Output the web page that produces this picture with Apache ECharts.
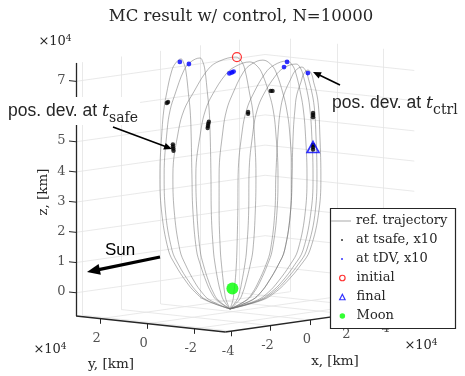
<!DOCTYPE html>
<html>
<head>
<meta charset="utf-8">
<script src="https://cdn.jsdelivr.net/npm/echarts@6/dist/echarts.min.js"></script>
<style>
html,body{margin:0;padding:0;background:#fff}
#chart{width:465px;height:376px}
</style>
</head>
<body>
<div id="chart"></div>
<script>
// axis limits and ticks, x/y/z in 1e4 km
var xLim = [-4.3, 5.3];
var yLim = [-3.3, 3.05];
var zLim = [-0.77, 7.61];
var xTicks = [-4, -2, 0, 2, 4];
var yTicks = [-2, 0, 2];
var zTicks = [0, 1, 2, 3, 4, 5, 6, 7];

var refLoops = [
  [[-0.08,-0.68],[-0.91,-0.38],[-1.24,-0.12],[-1.52,0.21],[-1.89,0.78],[-2.12,1.27],[-2.35,2.60],[-2.40,3.76],[-2.33,5.25],[-2.27,5.91],[-2.19,6.40],[-2.01,7.20],[-1.88,7.46],[-1.70,7.60],[-1.61,7.46],[-1.54,7.20],[-1.45,6.40],[-1.40,5.91],[-1.37,5.25],[-1.34,3.76],[-1.31,2.60],[-1.19,1.27],[-1.06,0.78],[-0.86,0.21],[-0.71,-0.12],[-0.53,-0.38],[-0.08,-0.68]],
  [[-0.08,-0.68],[-0.87,-0.38],[-1.17,-0.12],[-1.43,0.21],[-1.78,0.78],[-2.00,1.27],[-2.22,2.60],[-2.26,3.76],[-2.16,5.25],[-2.06,5.91],[-1.91,6.40],[-1.60,7.23],[-1.38,7.50],[-1.07,7.63],[-0.98,7.50],[-0.91,7.23],[-0.82,6.40],[-0.77,5.91],[-0.74,5.25],[-0.71,3.76],[-0.70,2.60],[-0.63,1.27],[-0.57,0.78],[-0.47,0.21],[-0.39,-0.12],[-0.30,-0.38],[-0.08,-0.68]],
  [[-0.08,-0.68],[-0.76,-0.38],[-1.02,-0.12],[-1.25,0.21],[-1.55,0.78],[-1.74,1.27],[-1.93,2.60],[-1.97,3.76],[-1.78,5.25],[-1.60,5.91],[-1.34,6.40],[-0.80,7.26],[-0.42,7.53],[0.12,7.66],[0.29,7.53],[0.41,7.26],[0.58,6.40],[0.67,5.91],[0.72,5.25],[0.78,3.76],[0.76,2.60],[0.68,1.27],[0.59,0.78],[0.45,0.21],[0.35,-0.12],[0.23,-0.38],[-0.08,-0.68]],
  [[-0.08,-0.68],[-0.48,-0.38],[-0.64,-0.12],[-0.78,0.21],[-0.96,0.78],[-1.07,1.27],[-1.18,2.60],[-1.21,3.76],[-1.04,5.25],[-0.89,5.91],[-0.67,6.40],[-0.21,7.10],[0.12,7.36],[0.58,7.50],[0.82,7.36],[0.99,7.10],[1.23,6.40],[1.35,5.91],[1.43,5.25],[1.51,3.76],[1.48,2.60],[1.32,1.27],[1.16,0.78],[0.91,0.21],[0.72,-0.12],[0.49,-0.38],[-0.08,-0.68]],
  [[-0.08,-0.68],[-0.21,-0.38],[-0.26,-0.12],[-0.30,0.21],[-0.36,0.78],[-0.40,1.27],[-0.44,2.60],[-0.44,3.76],[-0.31,5.25],[-0.19,5.91],[-0.01,6.40],[0.37,7.17],[0.64,7.43],[1.01,7.56],[1.26,7.43],[1.44,7.17],[1.69,6.40],[1.80,5.91],[1.89,5.25],[1.97,3.76],[1.93,2.60],[1.73,1.27],[1.52,0.78],[1.19,0.21],[0.95,-0.12],[0.66,-0.38],[-0.08,-0.68]],
  [[-0.08,-0.68],[0.02,-0.38],[0.05,-0.12],[0.09,0.21],[0.13,0.78],[0.15,1.27],[0.18,2.60],[0.19,3.76],[0.33,5.25],[0.47,5.91],[0.67,6.40],[1.09,7.13],[1.39,7.40],[1.81,7.53],[1.98,7.40],[2.10,7.13],[2.27,6.40],[2.35,5.91],[2.41,5.25],[2.47,3.76],[2.42,2.60],[2.17,1.27],[1.91,0.78],[1.50,0.21],[1.20,-0.12],[0.84,-0.38],[-0.08,-0.68]],
  [[-0.08,-0.68],[0.15,-0.38],[0.24,-0.12],[0.31,0.21],[0.41,0.78],[0.47,1.27],[0.54,2.60],[0.55,3.76],[0.69,5.25],[0.82,5.91],[1.02,6.40],[1.42,7.03],[1.70,7.30],[2.11,7.43],[2.25,7.30],[2.35,7.03],[2.50,6.40],[2.57,5.91],[2.62,5.25],[2.67,3.76],[2.61,2.60],[2.34,1.27],[2.06,0.78],[1.63,0.21],[1.29,-0.12],[0.91,-0.38],[-0.08,-0.68]],
  [[-0.08,-0.68],[0.47,-0.38],[0.68,-0.12],[0.86,0.21],[1.11,0.78],[1.26,1.27],[1.41,2.60],[1.44,3.76],[1.52,5.25],[1.59,5.91],[1.70,6.40],[1.93,6.93],[2.08,7.20],[2.30,7.33],[2.43,7.20],[2.52,6.93],[2.65,6.40],[2.72,5.91],[2.76,5.25],[2.80,3.76],[2.75,2.60],[2.46,1.27],[2.17,0.78],[1.71,0.21],[1.36,-0.12],[0.96,-0.38],[-0.08,-0.68]],
  [[-0.08,-0.68],[0.66,-0.38],[0.95,-0.12],[1.19,0.21],[1.52,0.78],[1.73,1.27],[1.93,2.60],[1.97,3.76],[2.02,5.25],[2.07,5.91],[2.13,6.40],[2.27,6.83],[2.36,7.10],[2.50,7.23],[2.62,7.10],[2.69,6.83],[2.80,6.40],[2.86,5.91],[2.89,5.25],[2.93,3.76],[2.87,2.60],[2.57,1.27],[2.27,0.78],[1.79,0.21],[1.43,-0.12],[1.01,-0.38],[-0.08,-0.68]]
];

// dispersion clouds (x10), view plane
var tsafeDev = [[-2.13,6.17],[-2.17,6.14],[-1.97,4.77],[-1.97,4.70],[-1.96,4.63],[-1.95,4.56],[-0.78,5.52],[-0.80,5.45],[-0.81,5.38],[-0.82,5.31],
  [0.52,5.84],[0.52,5.78],[1.27,6.54],[1.33,6.54],[2.67,5.81],[2.67,5.74],[2.67,5.67],[2.67,4.75],[2.67,4.68],[2.67,4.60]];
var tdvDev = [[-1.74,7.50],[-1.44,7.43],[-0.10,7.12],[-0.02,7.15],[0.04,7.18],[1.81,7.50],[1.71,7.33],[2.50,7.13]];
var initialPt = [[0.15, 7.66]];
var finalPt = [[2.67, 4.68]];
var moonPos = [0, 0, 0];

// orthographic view used for the box
function proj(p) {
  return [0.652 * p[0] - 0.778 * p[1], p[2] + 0.0927 * p[0] + 0.0834 * p[1]];
}

var serif = 'DejaVu Serif';
var ink = '#262626';
var trajColor = 'rgba(105,105,105,0.5)';

// back walls and floor grid
var gridSegs = [];
xTicks.forEach(function (x) {
  gridSegs.push([[x, yLim[1], zLim[0]], [x, yLim[1], zLim[1]]]);
  gridSegs.push([[x, yLim[0], zLim[0]], [x, yLim[1], zLim[0]]]);
});
yTicks.forEach(function (y) {
  gridSegs.push([[xLim[1], y, zLim[0]], [xLim[1], y, zLim[1]]]);
  gridSegs.push([[xLim[0], y, zLim[0]], [xLim[1], y, zLim[0]]]);
});
zTicks.forEach(function (z) {
  gridSegs.push([[xLim[0], yLim[1], z], [xLim[1], yLim[1], z]]);
  gridSegs.push([[xLim[1], yLim[0], z], [xLim[1], yLim[1], z]]);
});

var axisSegs = [
  [[xLim[0], yLim[1], zLim[0]], [xLim[0], yLim[1], zLim[1]]],
  [[xLim[0], yLim[1], zLim[0]], [xLim[0], yLim[0], zLim[0]]],
  [[xLim[0], yLim[0], zLim[0]], [xLim[1], yLim[0], zLim[0]]]
];
var tickSegs = [];
zTicks.forEach(function (z) { tickSegs.push([[xLim[0], yLim[1], z], [xLim[0], yLim[1] + 0.3, z]]); });
yTicks.forEach(function (y) { tickSegs.push([[xLim[0], y, zLim[0]], [xLim[0], y, zLim[0] - 0.17]]); });
xTicks.forEach(function (x) { tickSegs.push([[x, yLim[0], zLim[0]], [x, yLim[0], zLim[0] - 0.17]]); });

function segData(list) {
  return list.map(function (s) { return { coords: s.map(proj) }; });
}

function tickLabels(points, vals, pos, dist, off) {
  return {
    type: 'scatter', silent: true, z: 4,
    symbolSize: 1, itemStyle: { color: 'rgba(0,0,0,0)' },
    data: points.map(function (p, i) { return proj(p).concat([vals[i]]); }),
    label: {
      show: true, position: pos, distance: dist, offset: off,
      formatter: function (d) { return String(d.value[2]); },
      fontFamily: serif, fontSize: 13, color: ink
    }
  };
}

var series = [
  { type: 'lines', coordinateSystem: 'cartesian2d', silent: true, z: 1,
    data: segData(gridSegs), lineStyle: { color: '#e3e3e3', width: 0.8, opacity: 1 } },
  { type: 'lines', coordinateSystem: 'cartesian2d', silent: true, z: 4,
    data: segData(axisSegs), lineStyle: { color: ink, width: 1.3, opacity: 1 } },
  { type: 'lines', coordinateSystem: 'cartesian2d', silent: true, z: 4,
    data: segData(tickSegs), lineStyle: { color: ink, width: 1, opacity: 1 } },
  tickLabels(zTicks.map(function (z) { return [xLim[0], yLim[1] + 0.3, z]; }), zTicks, 'left', 3, [0, 0]),
  tickLabels(yTicks.map(function (y) { return [xLim[0], y, zLim[0]]; }), yTicks, 'bottom', 13, [-4, 0]),
  tickLabels(xTicks.map(function (x) { return [x, yLim[0], zLim[0]]; }), xTicks, 'bottom', 13, [-3, 0])
];

refLoops.forEach(function (loop) {
  series.push({
    name: 'ref. trajectory', type: 'line', data: loop, smooth: 0.4,
    symbol: 'none', showSymbol: false, silent: true, z: 3,
    itemStyle: { color: trajColor },
    lineStyle: { color: trajColor, width: 1 }
  });
});

series.push(
  { name: 'at tsafe, x10', type: 'scatter', data: tsafeDev, symbolSize: 4.4, z: 5,
    itemStyle: { color: '#000' } },
  { name: 'at tDV, x10', type: 'scatter', data: tdvDev, symbolSize: 4.8, z: 5,
    itemStyle: { color: '#0000ff' } },
  { name: 'initial', type: 'scatter', data: initialPt, symbol: 'circle', symbolSize: 9, z: 6,
    itemStyle: { color: 'rgba(0,0,0,0)', borderColor: '#ff0000', borderWidth: 1.2 } },
  { name: 'final', type: 'scatter', data: finalPt, symbol: 'triangle', symbolSize: [12, 11], z: 6,
    itemStyle: { color: 'rgba(0,0,0,0)', borderColor: '#0000ff', borderWidth: 1.6 } },
  { name: 'Moon', type: 'scatter', data: [proj(moonPos)], symbolSize: 12, z: 6,
    itemStyle: { color: '#00ff00' } }
);

// one legend per group of rows; icon box width w, text pushed to the same column
function legendRow(top, items, left, w, h, pad) {
  return {
    data: items, orient: 'vertical', left: left, top: top, padding: 0,
    itemWidth: w, itemHeight: h, itemGap: 0, selectedMode: false, z: 20,
    symbolKeepAspect: false,
    textStyle: { fontFamily: serif, fontSize: 13, color: ink, lineHeight: 19, padding: [0, 0, 0, pad] }
  };
}

function arrow(x1, y1, x2, y2, w, hl, hw) {
  var dx = x2 - x1, dy = y2 - y1, L = Math.sqrt(dx * dx + dy * dy);
  var ux = dx / L, uy = dy / L, bx = x2 - ux * hl, by = y2 - uy * hl;
  return [
    { type: 'line', z: 30, shape: { x1: x1, y1: y1, x2: bx + ux, y2: by + uy },
      style: { stroke: '#000', lineWidth: w } },
    { type: 'polygon', z: 30,
      shape: { points: [[x2, y2], [bx - uy * hw / 2, by + ux * hw / 2], [bx + uy * hw / 2, by - ux * hw / 2]] },
      style: { fill: '#000' } }
  ];
}

var subRich = {
  a: { fontFamily: 'Liberation Sans', fontSize: 17.5, lineHeight: 28, color: '#000' },
  t: { fontFamily: serif, fontStyle: 'italic', fontSize: 17.5, lineHeight: 28, color: '#000' },
  s: { fontFamily: serif, fontSize: 14, lineHeight: 14, padding: [14, 0, 0, 0], color: '#000' }
};
var expRich = {
  a: { fontFamily: serif, fontSize: 13, lineHeight: 16, color: ink },
  b: { fontFamily: serif, fontSize: 9, lineHeight: 9, verticalAlign: 'top', color: ink }
};

function txt(x, y, text, extra) {
  var st = { x: x, y: y, text: text, fontFamily: serif, fontSize: 13.5, fill: ink,
    align: 'center', verticalAlign: 'middle' };
  for (var k in extra) st[k] = extra[k];
  return { type: 'text', z: 30, style: st };
}

var graphics = [
  { type: 'rect', z: 15, shape: { x: 330.5, y: 208.5, width: 125, height: 120 },
    style: { fill: '#fff', stroke: ink, lineWidth: 1.2 } },
  txt(241, 17, 'MC result w/ control, N=10000', { fontSize: 16.5 }),
  txt(335, 361, 'x, [km]'),
  txt(111, 364, 'y, [km]'),
  { type: 'text', z: 30, x: 43, y: 192, rotation: Math.PI / 2,
    style: { x: 0, y: 0, text: 'z, [km]', fontFamily: serif, fontSize: 13.5, fill: ink,
      align: 'center', verticalAlign: 'middle' } },
  txt(55, 42, '{a|×10}{b|4}', { rich: expRich }),
  txt(50, 350, '{a|×10}{b|4}', { rich: expRich }),
  txt(421, 346, '{a|×10}{b|4}', { rich: expRich }),
  txt(6, 97, '{a|pos. dev. at }{t|t}{s|safe}', { rich: subRich, align: 'left', verticalAlign: 'top',
    backgroundColor: '#fff', padding: [0, 2, 0, 2] }),
  txt(332, 89, '{a|pos. dev. at }{t|t}{s|ctrl}', { rich: subRich, align: 'left', verticalAlign: 'top' }),
  txt(120, 250, 'Sun', { fontFamily: 'Liberation Sans', fontSize: 17, fill: '#000' })
].concat(
  arrow(113, 127, 172, 149, 1.6, 8, 7),
  arrow(340, 85, 313, 72, 1.6, 8, 7),
  arrow(160, 257, 87, 272, 3.2, 13, 11)
);

var chart = echarts.init(document.getElementById('chart'), null, { renderer: 'canvas' });
chart.setOption({
  animation: false,
  backgroundColor: '#fff',
  grid: { left: 0, right: 0, top: 0, bottom: 0 },
  xAxis: { type: 'value', min: -7.695, max: 7.702, show: false },
  yAxis: { type: 'value', min: -2.901, max: 9.550, show: false },
  legend: [
    legendRow(211.5, [{ name: 'ref. trajectory', icon: 'rect', itemStyle: { color: '#a8a8a8' } }], 331, 20, 1, 0),
    legendRow(230.5, [
      { name: 'at tsafe, x10', icon: 'circle', itemStyle: { color: '#000' } },
      { name: 'at tDV, x10', icon: 'circle', itemStyle: { color: '#0000ff' } }
    ], 341, 2, 2, 8),
    legendRow(268.5, [
      { name: 'initial', icon: 'circle', itemStyle: { color: '#fff', borderColor: '#ff0000', borderWidth: 1.2 } },
      { name: 'final', icon: 'triangle', itemStyle: { color: '#fff', borderColor: '#0000ff', borderWidth: 1.2 } },
      { name: 'Moon', icon: 'circle', itemStyle: { color: '#00ff00' } }
    ], 339, 5.5, 5.5, 6.5)
  ],
  graphic: graphics,
  series: series
});
</script>
</body>
</html>
